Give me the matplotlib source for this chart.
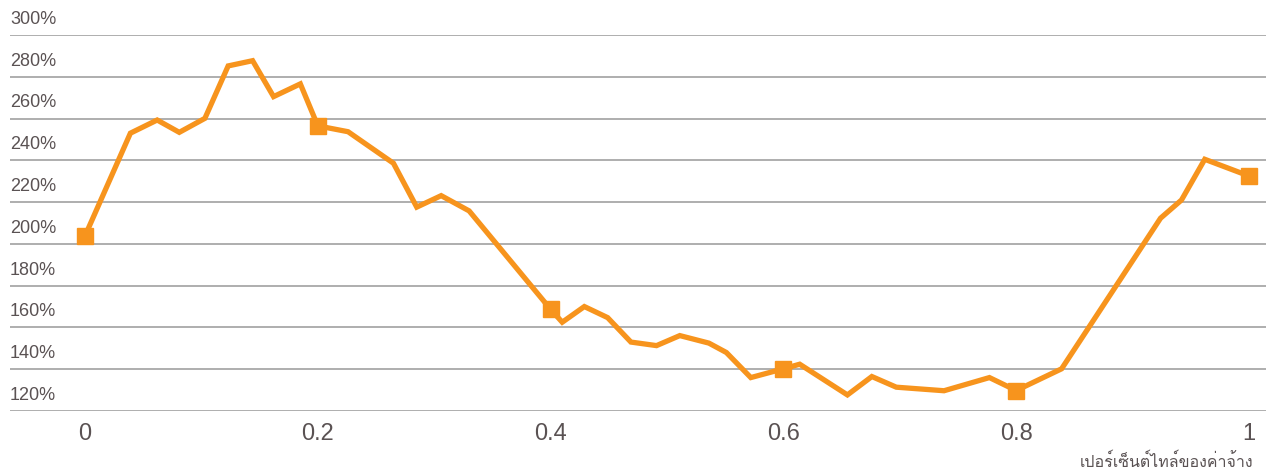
import matplotlib
matplotlib.use("Agg")
import matplotlib.pyplot as plt
from matplotlib import font_manager
from matplotlib.ft2font import FT2Font

# percentile of wage vs. ratio (%)
pct = [0.0, 0.039, 0.062, 0.081, 0.103, 0.123, 0.144, 0.162, 0.185, 0.2,
       0.226, 0.265, 0.285, 0.306, 0.330, 0.4, 0.41, 0.429, 0.449, 0.469,
       0.491, 0.511, 0.536, 0.551, 0.572, 0.6, 0.614, 0.655, 0.676, 0.697,
       0.738, 0.777, 0.8, 0.839, 0.924, 0.942, 0.962, 1.0]
ratio = [203.8, 253.0, 259.3, 253.4, 260.1, 285.2, 287.7, 270.5, 276.6, 256.5,
         253.7, 238.6, 217.6, 223.1, 215.8, 168.7, 162.5, 170.0, 164.7, 153.0,
         151.3, 156.1, 152.5, 148.0, 136.0, 140.2, 142.4, 127.7, 136.5, 131.4,
         129.7, 136.0, 129.8, 140.2, 212.3, 221.0, 240.5, 232.5]
marker_pct = [0.0, 0.2, 0.4, 0.6, 0.8, 1.0]
marker_ratio = [203.8, 256.5, 168.7, 140.2, 129.8, 232.5]

yticks = [120, 140, 160, 180, 200, 220, 240, 260, 280, 300]
xticks = [0, 0.2, 0.4, 0.6, 0.8, 1]
xtick_labels = ["0", "0.2", "0.4", "0.6", "0.8", "1"]
xlabel = "เปอร์เซ็นต์ไทล์ของค่าจ้าง"

ORANGE = "#F7941D"
TEXT = "#5a5253"


def find_thai_font():
    # look for any installed font that has Thai glyphs
    for f in font_manager.fontManager.ttflist:
        try:
            cmap = FT2Font(f.fname).get_charmap()
        except Exception:
            continue
        if 0x0E40 in cmap and 0x0E08 in cmap:
            return f.name
    return None


thai_font = find_thai_font()
plt.rcParams["font.family"] = ["Liberation Sans", "DejaVu Sans"]

fig = plt.figure(figsize=(12.73, 4.74), dpi=100)
ax = fig.add_axes([10 / 1273, 63 / 474, 1256 / 1273, 376 / 474])

ax.plot(pct, ratio, color=ORANGE, lw=3.8, solid_joinstyle="miter", zorder=3)
ax.plot(marker_pct, marker_ratio, ls="none", marker="s", ms=11,
        color=ORANGE, zorder=4)

ax.set_xlim(-75 / 1164, 1 + 17 / 1164)
ax.set_ylim(120, 300)

for s in ax.spines.values():
    s.set_visible(False)
ax.set_yticks(yticks)
ax.set_yticklabels([])
ax.tick_params(axis="both", length=0)
ax.grid(axis="y", color="#a8a8a8", lw=1.3)
ax.set_axisbelow(True)

for v in yticks:
    ax.text(0, v + 3.4, f"{v}%", transform=ax.get_yaxis_transform(),
            ha="left", va="bottom", fontsize=13, color=TEXT)

ax.set_xticks(xticks)
ax.set_xticklabels(xtick_labels, fontsize=17, color=TEXT)
ax.tick_params(axis="x", pad=9)

fam = [thai_font, "DejaVu Sans"] if thai_font else ["DejaVu Sans"]
fig.text(1253 / 1273, 1 - 462 / 474, xlabel, ha="right", va="center",
         fontsize=11.5, color=TEXT, family=fam)

fig.savefig("out.png", dpi=100)
